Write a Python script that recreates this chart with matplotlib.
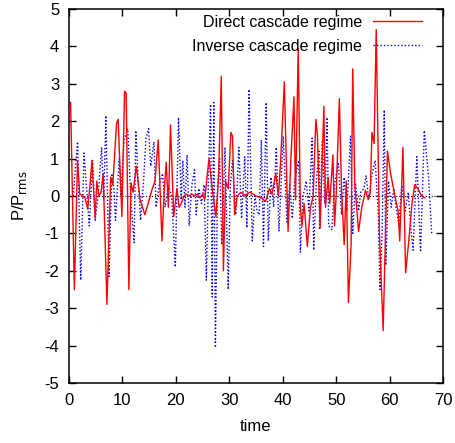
import matplotlib
matplotlib.use("Agg")
import matplotlib.pyplot as plt

plt.rcParams['font.family'] = ['Liberation Sans', 'DejaVu Sans']
plt.rcParams['axes.unicode_minus'] = False

# Direct cascade regime (red, solid)
t_direct = [0.3, 1.0, 1.6, 2.0, 2.6, 3.0, 3.5, 4.0, 4.3, 4.9, 5.2, 5.6, 6.0, 6.4,
            7.1, 7.8, 8.2, 8.9, 9.2, 9.9, 10.4, 10.7, 11.2, 11.6, 12.0, 12.6, 13.3,
            14.2, 15.0, 15.6, 16.1, 16.7, 17.4, 17.8, 18.2, 18.6, 19.0, 19.6, 20.2,
            20.6, 21.0, 21.5, 22.0, 22.5, 23.0, 23.5, 24.0, 24.5, 25.0, 25.4, 26.2,
            26.8, 27.5, 28.0, 28.5, 28.9, 29.3, 29.8, 30.3, 30.6, 31.0, 31.5, 32.2,
            33.0, 33.8, 34.5, 35.0, 36.0, 36.8, 37.5, 38.0, 38.7, 39.2, 39.6, 40.3,
            41.0, 41.5, 42.1, 42.4, 42.9, 43.3, 43.6, 44.0, 44.6, 45.2, 45.7, 46.2,
            46.5, 47.0, 47.7, 48.0, 48.5, 48.8, 49.4, 49.7, 50.0, 50.6, 51.0, 51.5,
            51.9, 52.3, 52.8, 53.1, 53.5, 54.2, 54.8, 55.5, 56.0, 56.4, 56.7, 57.1,
            57.5, 58.1, 58.8, 59.6, 60.2, 61.0, 61.6, 61.9, 62.2, 62.5, 63.0, 63.6,
            64.2, 64.7, 65.3, 66.0, 66.6]
p_direct = [2.5, -2.5, 0.95, 0.05, 0.0, -0.05, -0.35, 0.4, 0.95, -0.6, 0.4, 0.0, 0.1, 0.6,
            -2.9, 0.5, 0.3, 1.95, 2.05, -0.55, 2.8, 2.75, -2.5, 0.35, 0.1, 0.8, -0.1,
            -0.5, -0.1, 0.2, 0.4, 1.5, -1.2, 0.1, 0.9, -0.3, 1.9, -0.55, 0.2,
            -0.3, -0.2, 0.0, 0.05, 0.0, 0.05, 0.0, 0.05, -0.05, 0.05, -0.1, 1.0,
            0.2, -0.55, 0.5, 3.2, -2.0, 0.4, 0.2, 1.7, 1.6, -0.5, 0.0, 0.1,
            0.0, 0.1, 0.05, 0.0, -0.05, -0.15, 0.2, 0.05, 0.6, 0.0, 0.9, 3.05,
            -0.95, 0.9, 2.65, -0.1, 3.95, -0.3, -0.8, -0.2, -1.35, -0.3, 0.0, 2.05,
            1.6, -0.85, 2.4, -0.3, 0.5, -0.2, 1.1, -0.8, 0.0, 2.6, 0.2, -1.3,
            0.4, -2.85, -1.3, 3.4, 0.3, -0.95, -0.3, 0.15, -0.1, 0.1, 1.7, 1.4,
            4.45, -1.0, -3.6, 1.2, 0.6, 0.0, -0.4, -1.2, 0.0, 1.3, -2.05, -1.2,
            -0.2, 0.3, 0.2, 0.0, -0.05]

# Inverse cascade regime (blue, dotted)
t_inverse = [0.8, 1.6, 2.2, 2.8, 3.3, 3.8, 4.4, 4.9, 5.5, 6.1, 6.5, 6.9, 7.5, 8.0,
             8.4, 8.7, 9.4, 9.7, 10.3, 11.0, 11.6, 12.2, 12.5, 13.0, 13.4, 14.0,
             14.4, 14.9, 15.3, 15.9, 16.3, 16.9, 17.5, 18.0, 18.6, 19.2, 19.9, 20.5,
             21.0, 21.3, 21.7, 22.1, 22.5, 23.0, 23.5, 23.8, 24.3, 24.8, 25.3, 25.7,
             26.1, 26.5, 26.8, 27.1, 27.4, 27.8, 28.2, 28.6, 29.2, 29.8, 30.2, 30.6,
             31.2, 31.8, 32.3, 32.9, 33.3, 33.7, 34.3, 34.8, 35.2, 35.6, 36.0, 36.4,
             36.9, 37.3, 37.8, 38.3, 38.8, 39.3, 40.1, 40.8, 41.3, 41.8, 42.3, 43.0,
             43.3, 43.8, 44.4, 44.9, 45.5, 45.8, 46.3, 46.8, 46.9, 47.4, 47.9, 48.3,
             48.6, 49.2, 49.7, 50.4, 51.0, 51.5, 52.0, 52.7, 53.1, 53.6, 54.2, 54.6,
             55.2, 55.6, 56.1, 56.6, 57.3, 57.9, 58.2, 58.6, 59.0, 59.3, 59.8, 60.3,
             60.8, 61.2, 61.7, 62.3, 62.9, 63.5, 64.0, 64.4, 65.1, 65.8, 66.5, 67.3,
             67.9]
p_inverse = [0.0, 1.45, -2.25, 1.15, 0.2, -0.8, 0.95, -0.65, 0.1, 1.3, -0.1, 2.15, -2.15, 0.6,
             0.2, -0.65, 1.0, 0.0, 1.5, 1.8, -0.2, -1.25, 1.75, 0.3, -0.65, 0.5,
             1.55, 1.8, 0.8, 1.45, -0.3, 0.3, 0.6, -0.3, 0.3, 0.0, -1.9, 2.1,
             -0.1, 0.95, -0.3, 1.1, -0.8, 0.3, 0.7, -0.5, 0.2, -0.2, 0.3, -2.25,
             0.5, 2.45, -2.7, 2.5, -4.05, 0.3, 1.0, -1.3, 1.3, -2.5, 0.3, 0.95,
             -0.5, 1.3, -0.6, 1.05, -0.85, 2.85, -1.2, 0.0, -0.4, -0.5, 1.5, -1.35,
             2.5, -1.2, 0.5, -0.3, 1.3, -0.95, 1.6, -0.7, 0.3, -0.6, 0.5, 0.95,
             -1.5, 0.0, 0.4, -0.4, 1.55, -1.45, 0.4, 1.2, -0.9, 1.45, -0.2, 2.1,
             -0.8, -0.9, 0.3, 0.9, -0.5, 0.5, -0.4, 1.6, -1.0, 0.35, -0.4, 0.1,
             0.2, 0.55, -0.1, 0.5, 0.95, -0.5, -2.5, -1.0, 2.3, -1.85, 0.4, -0.3,
             0.2, -0.3, -0.75, 0.3, -0.4, 0.1, -0.9, -1.45, 1.05, -1.5, 1.75, 0.5,
             -1.05]

fig = plt.figure(figsize=(4.55, 4.43), dpi=100)
ax = fig.add_axes([69 / 455, 60 / 443, 374 / 455, 374 / 443])

ax.axhline(0, color='black', ls=':', lw=0.8, zorder=1)
ax.plot(t_direct, p_direct, color='#ff0000', lw=1.0, label='Direct cascade regime', zorder=3)
ax.plot(t_inverse, p_inverse, color='#0000ff', lw=1.0, ls=(0, (1, 1.5)),
        label='Inverse cascade regime', zorder=2)

ax.set_xlim(0, 70)
ax.set_ylim(-5, 5)
ax.set_xticks(range(0, 71, 10))
ax.set_yticks(range(-5, 6))
ax.tick_params(direction='in', top=True, right=True, length=5, width=1,
               labelsize=12, pad=7)
for s in ax.spines.values():
    s.set_linewidth(1.1)

ax.set_xlabel('time', fontsize=12, labelpad=8)
ax.set_ylabel(r'P/P$_{\mathrm{rms}}$', fontsize=12, labelpad=11)

ax.legend(loc='upper right', bbox_to_anchor=(1 - 15 / 374, 1), markerfirst=False,
          frameon=False, fontsize=11.5, handlelength=3.05, handletextpad=0.7,
          labelspacing=0.56, borderaxespad=0, borderpad=0.38)

plt.savefig('out.png', dpi=100)
